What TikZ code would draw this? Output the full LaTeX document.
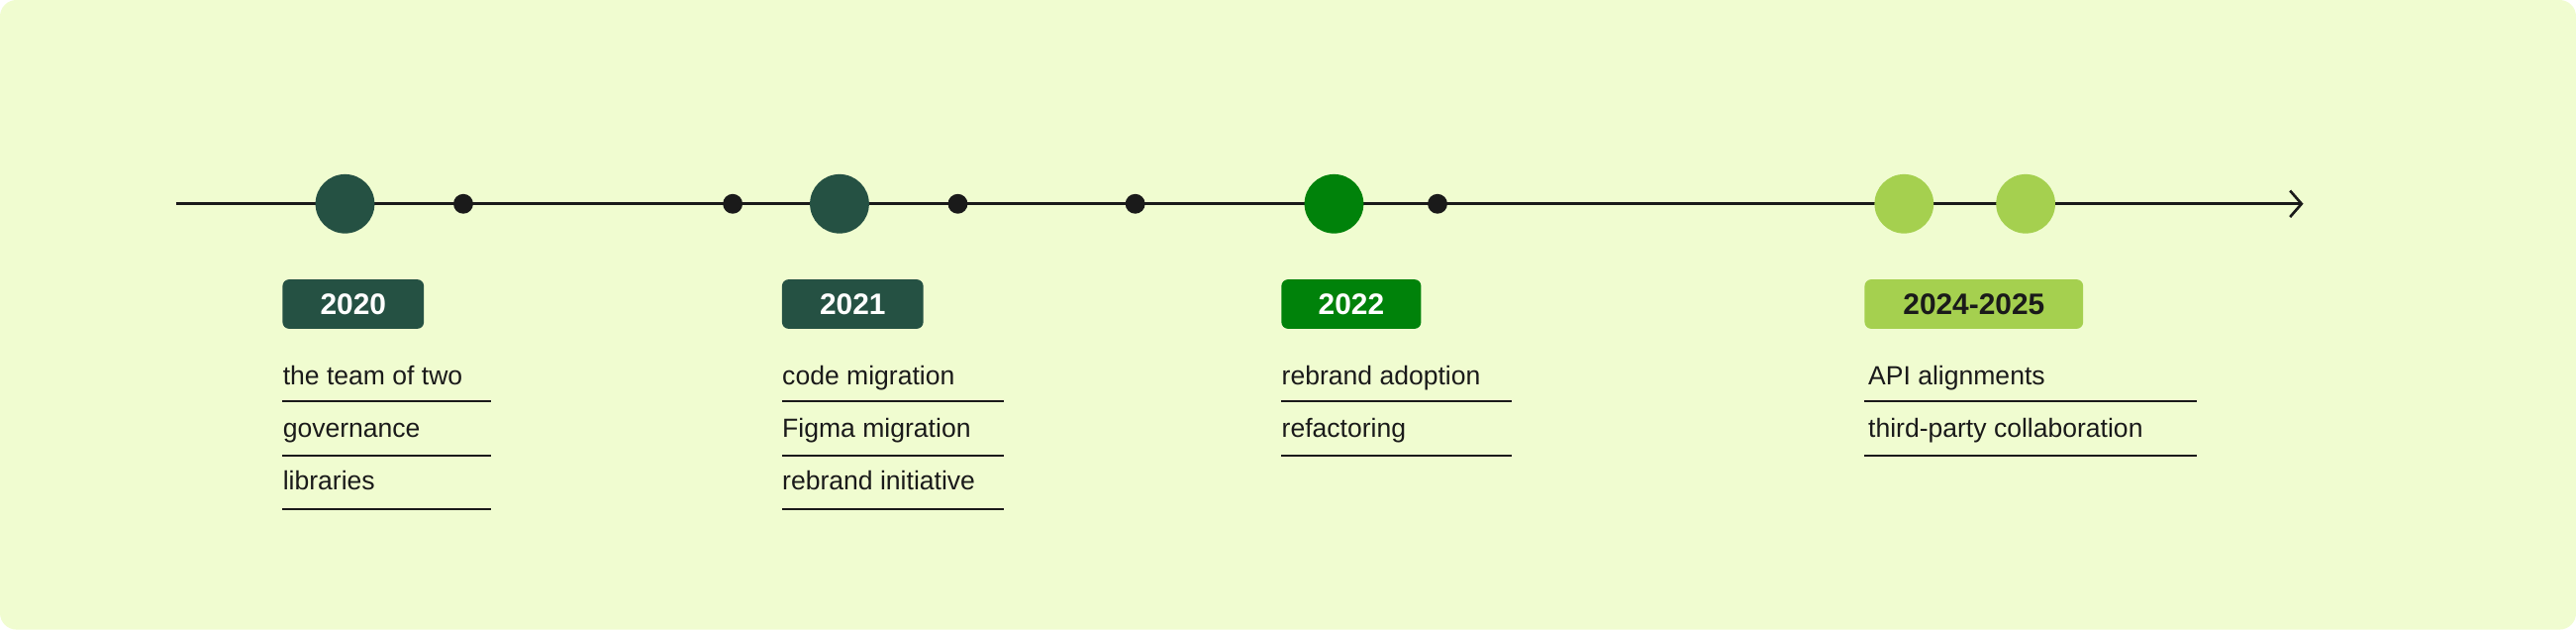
\documentclass[tikz,border=0pt]{standalone}
\usepackage{fontspec}
\setmainfont{Liberation Sans}
\usetikzlibrary{arrows.meta}
\definecolor{bgcream}{HTML}{F0FCD0}
\definecolor{darkgreen}{HTML}{255143}
\definecolor{midgreen}{HTML}{00820A}
\definecolor{lightgreen}{HTML}{A5D04F}
\definecolor{inkblack}{HTML}{1A1A1A}
\tikzset{
  bigdot/.style={circle,minimum size=36pt,inner sep=0pt},
  smalldot/.style={circle,fill=inkblack,minimum size=12pt,inner sep=0pt},
  yearbox/.style={rounded corners=4pt,minimum height=30pt,inner sep=0pt,font=\fontsize{18}{20}\selectfont\bfseries},
  item/.style={anchor=base west,inner sep=0pt,font=\fontsize{16}{18}\selectfont,text=inkblack},
  rule/.style={draw=inkblack,line width=1.2pt}
}
\begin{document}
\begin{tikzpicture}[x=1pt,y=-1pt]
        \useasboundingbox (0,0) rectangle (1568,383);
        \fill[bgcream,rounded corners=10pt] (0,0) rectangle (1568,383);

        \coordinate (start) at (107,124);
        \coordinate (end) at (1402,124);
        \draw[line width=1.6pt,inkblack,-{Straight Barb[length=7pt,width=16pt]}] (start) -- (end);

        \node[bigdot,fill=darkgreen] (c2020) at (210,124){};
        \node[bigdot,fill=darkgreen] (c2021) at (511,124){};
        \node[bigdot,fill=midgreen] (c2022) at (812,124){};
        \node[bigdot,fill=lightgreen] (c2024) at (1159,124){};
        \node[bigdot,fill=lightgreen] (c2025) at (1233,124){};
        \foreach \x in {282,446,583,691,875}
            \node[smalldot] (d\x) at (\x,124){};

        \node[yearbox,fill=darkgreen,text=white,minimum width=86pt] (y2020) at (215,185){2020};
        \node[yearbox,fill=darkgreen,text=white,minimum width=86pt] (y2021) at (519,185){2021};
        \node[yearbox,fill=midgreen,text=white,minimum width=85pt] (y2022) at (822.5,185){2022};
        \node[yearbox,fill=lightgreen,text=inkblack,minimum width=133pt] (y2024) at (1201.5,185){2024-2025};

        % items under each year
        \node[item] (a1) at (172,234){the team of two};
        \node[item] (a2) at (172,266){governance};
        \node[item] (a3) at (172,298){libraries};
        \foreach \y in {244,277,310} \draw[rule] (172,\y) -- (299,\y);

        \node[item] (b1) at (476,234){code migration};
        \node[item] (b2) at (476,266){Figma migration};
        \node[item] (b3) at (476,298){rebrand initiative};
        \foreach \y in {244,277,310} \draw[rule] (476,\y) -- (611,\y);

        \node[item] (e1) at (780,234){rebrand adoption};
        \node[item] (e2) at (780,266){refactoring};
        \foreach \y in {244,277} \draw[rule] (780,\y) -- (920,\y);

        \node[item] (f1) at (1137,234){API alignments};
        \node[item] (f2) at (1137,266){third-party collaboration};
        \foreach \y in {244,277} \draw[rule] (1135,\y) -- (1337,\y);
\end{tikzpicture}
\end{document}
